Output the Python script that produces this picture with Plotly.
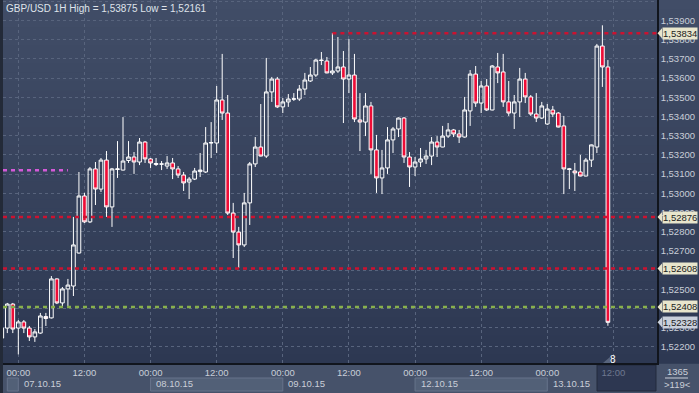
import numpy as np
import pandas as pd
import plotly.graph_objects as go

# ---------------- data ----------------
times = list(pd.date_range("2015-10-06 21:00", "2015-10-09 23:00", freq="h")) + \
        list(pd.date_range("2015-10-12 00:00", "2015-10-13 11:00", freq="h"))

open_ = [1.52246, 1.52298, 1.52423, 1.52298, 1.52330, 1.52298, 1.52252, 1.52272, 1.52358, 1.52351,
         1.52554, 1.52429, 1.52502, 1.52517, 1.52689, 1.52986, 1.52851, 1.53127, 1.53022, 1.53173,
         1.52929, 1.53124, 1.53121, 1.53171, 1.53189, 1.53163, 1.53267, 1.53179, 1.53150, 1.53153,
         1.53142, 1.53158, 1.53127, 1.53095, 1.53059, 1.53074, 1.53113, 1.53111, 1.53262, 1.53262,
         1.53486, 1.53418, 1.52897, 1.52798, 1.52731, 1.52950, 1.53153, 1.53241, 1.53194, 1.53528,
         1.53595, 1.53450, 1.53476, 1.53490, 1.53491, 1.53543, 1.53585, 1.53616, 1.53694, 1.53689,
         1.53627, 1.53637, 1.53658, 1.53595, 1.53616, 1.53382, 1.53371, 1.53455, 1.53226, 1.53080,
         1.53132, 1.53278, 1.53335, 1.53392, 1.53189, 1.53137, 1.53163, 1.53179, 1.53194, 1.53267,
         1.53241, 1.53298, 1.53330, 1.53309, 1.53293, 1.53429, 1.53621, 1.53470, 1.53559, 1.53434,
         1.53658, 1.53632, 1.53476, 1.53418, 1.53476, 1.53595, 1.53502, 1.53413, 1.53392, 1.53361,
         1.53434, 1.53418, 1.53351, 1.53124, 1.53116, 1.53111, 1.53090, 1.53173, 1.53241, 1.53767,
         1.53658]
high = [1.52314, 1.52429, 1.52429, 1.52340, 1.52340, 1.52309, 1.52293, 1.52377, 1.52377, 1.52569,
        1.52557, 1.52512, 1.52554, 1.52877, 1.53111, 1.53002, 1.53137, 1.53163, 1.53184, 1.53220,
        1.53132, 1.53272, 1.53397, 1.53272, 1.53215, 1.53288, 1.53272, 1.53184, 1.53184, 1.53168,
        1.53194, 1.53184, 1.53142, 1.53111, 1.53085, 1.53132, 1.53210, 1.53345, 1.53371, 1.53559,
        1.53726, 1.53512, 1.52950, 1.52825, 1.53002, 1.53163, 1.53293, 1.53465, 1.53705, 1.53606,
        1.53606, 1.53496, 1.53517, 1.53522, 1.53564, 1.53627, 1.53658, 1.53700, 1.53736, 1.53710,
        1.53835, 1.53814, 1.53741, 1.53804, 1.53726, 1.53522, 1.53522, 1.53476, 1.53304, 1.53226,
        1.53345, 1.53345, 1.53395, 1.53397, 1.53215, 1.53189, 1.53236, 1.53226, 1.53293, 1.53298,
        1.53351, 1.53366, 1.53335, 1.53330, 1.53502, 1.53642, 1.53663, 1.53585, 1.53595, 1.53668,
        1.53731, 1.53726, 1.53585, 1.53512, 1.53653, 1.53627, 1.53512, 1.53522, 1.53476, 1.53465,
        1.53455, 1.53423, 1.53403, 1.53132, 1.53158, 1.53200, 1.53184, 1.53254, 1.53778, 1.53875,
        1.53694]
low = [1.52236, 1.52272, 1.52272, 1.52161, 1.52272, 1.52231, 1.52226, 1.52268, 1.52309, 1.52348,
       1.52423, 1.52403, 1.52403, 1.52465, 1.52686, 1.52845, 1.52845, 1.52939, 1.53007, 1.52877,
       1.52825, 1.53080, 1.53119, 1.53158, 1.53101, 1.53147, 1.53158, 1.53132, 1.53142, 1.53121,
       1.53127, 1.53074, 1.53080, 1.53012, 1.52970, 1.53069, 1.53085, 1.53106, 1.53184, 1.53210,
       1.53382, 1.52887, 1.52663, 1.52611, 1.52720, 1.52835, 1.53137, 1.53192, 1.53184, 1.53476,
       1.53444, 1.53418, 1.53450, 1.53481, 1.53481, 1.53512, 1.53580, 1.53606, 1.53668, 1.53625,
       1.53616, 1.53627, 1.53366, 1.53522, 1.53371, 1.53220, 1.53298, 1.53101, 1.53002, 1.52996,
       1.53101, 1.53210, 1.53293, 1.53158, 1.53033, 1.53090, 1.53137, 1.53153, 1.53147, 1.53189,
       1.53240, 1.53288, 1.53293, 1.53262, 1.53290, 1.53351, 1.53450, 1.53418, 1.53429, 1.53432,
       1.53574, 1.53450, 1.53403, 1.53335, 1.53397, 1.53470, 1.53403, 1.53371, 1.53387, 1.53356,
       1.53397, 1.53343, 1.52996, 1.53022, 1.53012, 1.53088, 1.53088, 1.53137, 1.53210, 1.53554,
       1.52310]
close = [1.52298, 1.52423, 1.52293, 1.52330, 1.52298, 1.52252, 1.52278, 1.52361, 1.52348, 1.52554,
         1.52429, 1.52502, 1.52522, 1.52731, 1.52986, 1.52851, 1.53127, 1.53022, 1.53173, 1.52929,
         1.53127, 1.53127, 1.53168, 1.53189, 1.53163, 1.53267, 1.53179, 1.53158, 1.53155, 1.53152,
         1.53158, 1.53127, 1.53095, 1.53054, 1.53074, 1.53116, 1.53121, 1.53262, 1.53264, 1.53486,
         1.53418, 1.52897, 1.52798, 1.52731, 1.52950, 1.53153, 1.53241, 1.53194, 1.53528, 1.53595,
         1.53450, 1.53476, 1.53491, 1.53492, 1.53543, 1.53590, 1.53616, 1.53694, 1.53692, 1.53627,
         1.53637, 1.53658, 1.53595, 1.53616, 1.53387, 1.53371, 1.53455, 1.53226, 1.53080, 1.53132,
         1.53278, 1.53335, 1.53392, 1.53189, 1.53137, 1.53163, 1.53179, 1.53194, 1.53267, 1.53241,
         1.53298, 1.53330, 1.53309, 1.53293, 1.53434, 1.53621, 1.53470, 1.53559, 1.53434, 1.53663,
         1.53627, 1.53476, 1.53418, 1.53476, 1.53595, 1.53502, 1.53413, 1.53392, 1.53455, 1.53439,
         1.53413, 1.53345, 1.53127, 1.53127, 1.53106, 1.53090, 1.53173, 1.53252, 1.53767, 1.53658,
         1.52328]

title_text = "GBP/USD 1H High = 1,53875 Low = 1,52161"
level_top = 1.53834          # red, drawn from the session high
levels_red = [1.52876, 1.52608]
level_green = 1.52408
level_magenta = 1.53120
magenta_end_time = pd.Timestamp("2015-10-07 09:00")
top_start_time = pd.Timestamp("2015-10-09 09:00")
price_ticks = [round(1.522 + 0.001 * k, 3) for k in range(19)]
hidden_price_ticks = [1.526, 1.524]   # fully covered by the level flags
counter_text = "8"
corner_top, corner_bottom = "1365", ">119<"

# ---------------- helpers ----------------
n = len(times)
x = np.arange(n)
XMIN, XMAX = 0.22, 118.91
YMIN, YMAX = 1.521161, 1.540068
PLOT_W, PLOT_H = 654, 363
FONT = "Liberation Sans, Arial, sans-serif"
TXT = "#c9ced8"


def xp(v):
    return (v - XMIN) / (XMAX - XMIN)


def fmt(v):
    return f"{v:.5f}".replace(".", ",")


idx_of = {t: i for i, t in enumerate(times)}

fig = go.Figure()
fig.add_trace(go.Candlestick(
    x=x, open=open_, high=high, low=low, close=close,
    increasing=dict(line=dict(color="#ffffff", width=1), fillcolor="rgba(0,0,0,0)"),
    decreasing=dict(line=dict(color="#ffffff", width=1), fillcolor="#ee0c36"),
    whiskerwidth=0, hoverinfo="skip", showlegend=False,
))

shapes = []
# background gradient (plot + right axis area)
N = 40
top_c = np.array([65, 77, 103])
bot_c = np.array([45, 56, 82])
for k in range(N):
    f = (k + 0.5) / N
    c = top_c * (1 - f) + bot_c * f
    shapes.append(dict(type="rect", xref="paper", yref="paper",
                       x0=-0.01, x1=1 + 45 / PLOT_W, y0=1 - (k + 1) / N - 0.002, y1=1 - k / N,
                       fillcolor=f"rgb({c[0]:.0f},{c[1]:.0f},{c[2]:.0f})", line_width=0, layer="below"))
# left border strip
shapes.append(dict(type="rect", xref="paper", yref="paper", x0=-3 / PLOT_W, x1=0, y0=-30 / PLOT_H, y1=1,
                   fillcolor="#232a38", line_width=0, layer="below"))

# date boxes on the bottom strip
day_starts = [i for i, t in enumerate(times) if t.hour == 0]
box_spans = [(1, day_starts[0]), (day_starts[1], day_starts[2]), (day_starts[3], day_starts[4])]
for a, b in box_spans:
    shapes.append(dict(type="rect", xref="paper", yref="paper",
                       x0=xp(a), x1=xp(b), y0=-28 / PLOT_H, y1=-15 / PLOT_H,
                       fillcolor="#526077", line=dict(color="#67738b", width=1), layer="below"))
# current-time box
shapes.append(dict(type="rect", xref="paper", yref="paper",
                   x0=(597 - 3) / PLOT_W, x1=(656 - 3) / PLOT_W, y0=-28 / PLOT_H, y1=-2 / PLOT_H,
                   fillcolor="#2d3751", line=dict(color="#222a3c", width=1), layer="below"))
# corner separator
shapes.append(dict(type="line", xref="paper", yref="paper",
                   x0=(665 - 3) / PLOT_W, x1=(688 - 3) / PLOT_W, y0=-15 / PLOT_H, y1=-15 / PLOT_H,
                   line=dict(color="#c9ced8", width=1)))

# level lines
for lv in levels_red:
    shapes.append(dict(type="line", xref="paper", yref="y", x0=0, x1=1, y0=lv, y1=lv,
                       line=dict(color="#cc1230", width=2.5, dash="4px,4px")))
shapes.append(dict(type="line", xref="paper", yref="y", x0=xp(idx_of[top_start_time]), x1=1,
                   y0=level_top, y1=level_top, line=dict(color="#cc1230", width=2.5, dash="4px,4px")))
shapes.append(dict(type="line", xref="paper", yref="y", x0=0, x1=1, y0=level_green, y1=level_green,
                   line=dict(color="#88b04c", width=2.5, dash="4px,4px")))
shapes.append(dict(type="line", xref="paper", yref="y", x0=0, x1=xp(idx_of[magenta_end_time]),
                   y0=level_magenta, y1=level_magenta,
                   line=dict(color="#d35ad8", width=2.5, dash="4px,4px")))

# price flags on right axis
ppx = (YMAX - YMIN) / PLOT_H
flag_vals = [(level_top, "#e8e5cc"), (levels_red[0], "#e8e5cc"), (levels_red[1], "#e8e5cc"),
             (level_green, "#e8e5cc"), (close[-1], "#c9d0db")]
annotations = []
for v, col in flag_vals:
    tip = (657.5 - 3) / PLOT_W
    base = (662 - 3) / PLOT_W
    shapes.append(dict(type="path", xref="paper", yref="y",
                       path=f"M {tip},{v} L {base},{v + 5 * ppx} L {base},{v - 5 * ppx} Z",
                       fillcolor=col, line_width=0))
    annotations.append(dict(xref="paper", yref="y", x=base, y=v, xanchor="left", yanchor="middle",
                            text=fmt(v), showarrow=False, bgcolor=col, borderpad=0,
                            font=dict(family=FONT, size=9.5, color="#1b1b1b")))

# small counter marker
shapes.append(dict(type="path", xref="paper", yref="paper",
                   path=f"M {(603 - 3) / PLOT_W},{0} L {(610 - 3) / PLOT_W},{0} L {(610 - 3) / PLOT_W},{6 / PLOT_H} Z",
                   fillcolor="#58647c", line_width=0))
annotations.append(dict(xref="x", yref="paper", x=n, y=4 / PLOT_H, text=counter_text, showarrow=False,
                        xanchor="center", yanchor="middle", font=dict(family=FONT, size=10, color="#ffffff")))

# title
annotations.append(dict(xref="paper", yref="paper", x=1 / PLOT_W, y=1 - 8.5 / PLOT_H, xanchor="left",
                        yanchor="middle", text=title_text, showarrow=False,
                        font=dict(family=FONT, size=10, color="#dfe3ea")))
# date labels
for i in day_starts:
    annotations.append(dict(xref="paper", yref="paper", x=xp(i) + 3.5 / PLOT_W, y=-20.5 / PLOT_H,
                            xanchor="left", yanchor="middle", text=times[i].strftime("%d.%m.%y"),
                            showarrow=False, font=dict(family=FONT, size=9.5, color=TXT)))
# corner box
annotations.append(dict(xref="paper", yref="paper", x=(677 - 3) / PLOT_W, y=-9 / PLOT_H,
                        text=corner_top, showarrow=False, xanchor="center", yanchor="middle",
                        font=dict(family=FONT, size=9.5, color=TXT)))
annotations.append(dict(xref="paper", yref="paper", x=(677 - 3) / PLOT_W, y=-21.5 / PLOT_H,
                        text=corner_bottom, showarrow=False, xanchor="center", yanchor="middle",
                        font=dict(family=FONT, size=9.5, color=TXT)))

# x ticks
tick_idx = [i for i, t in enumerate(times) if t.hour in (0, 12)]
tick_txt = [times[i].strftime("%H:%M") for i in tick_idx]
next_time = times[-1] + pd.Timedelta(hours=1)
tick_idx.append(n)
tick_txt.append(f"<span style='color:#6d7890'>{next_time.strftime('%H:%M')}</span>")

y_txt = ["" if any(abs(v - h) < 1e-9 for h in hidden_price_ticks) else fmt(v) for v in price_ticks]

fig.update_layout(
    width=699, height=393,
    margin=dict(l=3, r=42, t=0, b=30, autoexpand=False),
    paper_bgcolor="#46526a", plot_bgcolor="rgba(0,0,0,0)",
    separators=",.",
    boxgap=0.05,
    font=dict(family=FONT, size=9.5, color=TXT),
    showlegend=False,
    shapes=shapes, annotations=annotations,
    xaxis=dict(range=[XMIN, XMAX], rangeslider=dict(visible=False), tickmode="array",
               tickvals=tick_idx, ticktext=tick_txt, showgrid=True, gridcolor="#58647d",
               griddash="3px,3px", gridwidth=1, zeroline=False, showline=True, automargin=False,
               linecolor="#11151d", linewidth=1.5, ticks="", tickfont=dict(size=9.5, color=TXT)),
    yaxis=dict(range=[YMIN, YMAX], side="right", tickmode="array", tickvals=price_ticks, ticktext=y_txt,
               showgrid=True, gridcolor="#58647d", griddash="3px,3px", gridwidth=1, zeroline=False,
               showline=True, linecolor="#11151d", linewidth=1.5, ticks="", automargin=False,
               tickfont=dict(size=9.5, color=TXT)),
)

fig.write_html("out.html", config={"displayModeBar": False},
               post_script="document.body.style.margin='0';document.body.style.overflow='hidden';")
